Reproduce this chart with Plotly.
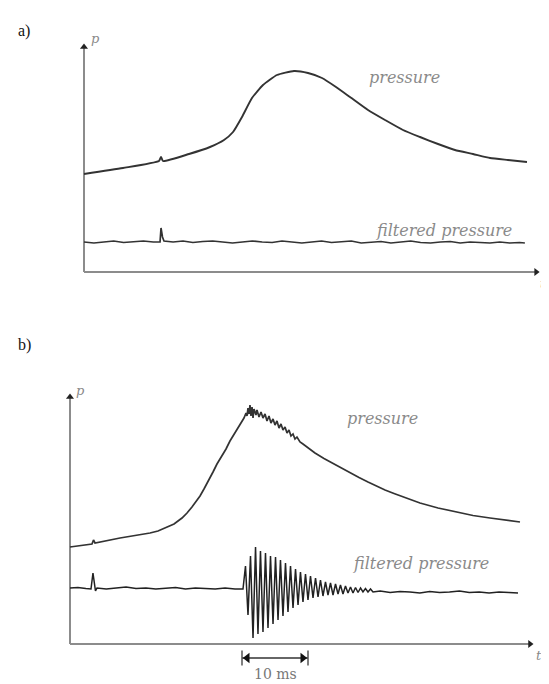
import plotly.graph_objects as go

# ---------------- data (t in ms, p in arbitrary units) ----------------
# panel a)
t_press_a = [0, 5.91, 11.36, 11.67, 11.97, 15.91, 19.09, 21.21, 22.58, 23.94, 25.45, 27.12,
             29.24, 31.82, 33.94, 36.06, 38.18, 40.30, 43.03, 45.61, 48.33, 50.91, 53.64,
             56.21, 58.94, 61.52, 64.24, 67.12]
p_press_a = [9.8, 10.4, 11.1, 11.5, 11.1, 11.8, 12.5, 13.2, 14.0, 15.5, 17.4, 18.7,
             19.7, 20.1, 19.9, 19.4, 18.5, 17.5, 16.2, 15.2, 14.2, 13.5, 12.8,
             12.2, 11.8, 11.4, 11.2, 11.0]

t_filt_a = [0, 1.5, 3, 4.5, 6, 7.5, 9, 10.5, 11.52, 11.67, 11.89, 12.12, 13.5, 15, 16.5, 18, 19.5,
            21, 22.5, 24, 25.5, 27, 28.5, 30, 31.5, 33, 34.5, 36, 37.5, 39, 40.5, 42, 43.5, 45,
            46.5, 48, 49.5, 51, 52.5, 54, 55.5, 57, 58.5, 60, 61.5, 63, 64.5, 66, 66.8]
d_filt_a = [0, -0.1, 0, 0.1, -0.05, 0, 0.1, 0, 0, 1.4, 0.5, 0.1, 0, 0.1, -0.05, 0.05, 0.1,
            0, -0.1, 0, 0.1, 0, -0.05, 0.1, 0, -0.1, 0, 0.1, -0.05, 0, 0.1, -0.1, 0, 0.05,
            -0.1, 0, 0.1, -0.05, -0.1, 0, 0.05, -0.1, 0, -0.05, -0.1, 0, -0.1, -0.05, -0.1]

# panel b)
t_press_b = [0.0, 3.33, 3.56, 3.79, 7.58, 10.61, 12.12, 13.33, 14.39, 15.76, 16.97, 17.73,
             18.48, 19.09, 19.70, 20.30, 21.06, 21.67, 22.27, 23.03, 23.64, 24.24, 25.0, 25.61,
             26.21, 26.36, 26.67, 26.82, 26.97, 27.12, 27.27, 27.42, 27.58, 27.73, 27.88,
             28.18, 28.33, 28.64, 28.94, 29.24, 29.55, 29.85, 30.15, 30.45, 30.76, 31.06, 31.36,
             31.67, 31.97, 32.27, 32.58, 32.88, 33.18, 33.48, 33.79, 34.09, 34.39, 34.85, 35.30,
             36.21, 37.12, 38.48, 39.85, 41.06, 42.42, 43.79, 45.15, 46.36, 47.73, 49.09, 50.45,
             51.67, 53.03, 55.76, 58.33, 61.06, 63.64, 65.91, 68.18]
p_press_b = [9.7, 10.0, 10.4, 10.1, 10.6, 10.9, 11.1, 11.3, 11.6, 12.0, 12.6, 13.1,
             13.7, 14.2, 14.8, 15.5, 16.4, 17.2, 18.0, 18.8, 19.5, 20.3, 21.1, 21.8,
             22.4, 22.6, 23.1, 22.8, 23.6, 23.0, 23.9, 22.8, 23.7, 22.6, 23.5,
             22.9, 23.4, 22.7, 23.2, 22.6, 23.0, 22.3, 22.8, 22.1, 22.5, 21.9, 22.3,
             21.6, 22.0, 21.4, 21.7, 21.1, 21.4, 20.8, 21.0, 20.5, 20.7, 20.2, 20.0,
             19.55, 19.1, 18.55, 18.05, 17.6, 17.1, 16.65, 16.2, 15.8, 15.4, 15.05, 14.7,
             14.4, 14.1, 13.6, 13.2, 12.85, 12.6, 12.4, 12.2]

t_filt_b = [0, 1.2, 2.4, 3.18, 3.48, 3.71, 3.86, 4.09, 5.5, 7, 8.5, 10, 11.5, 13, 14.5, 16, 17.5,
            19, 20.5, 22, 23.5, 25, 26.21,
            26.59, 26.97, 27.35, 27.73, 28.11, 28.48, 28.86, 29.24, 29.62, 30.00, 30.38, 30.76,
            31.14, 31.52, 31.89, 32.27, 32.65, 33.03, 33.41, 33.79, 34.17, 34.55, 34.92, 35.30,
            35.68, 36.06, 36.44, 36.82, 37.20, 37.58, 37.95, 38.33, 38.71, 39.09, 39.47, 39.85,
            40.23, 40.61, 40.98, 41.36, 41.74, 42.12, 42.50, 42.88, 43.26, 43.64, 44.02, 44.39,
            44.77, 45.15, 45.53, 45.91,
            47, 48.5, 50, 51.5, 53, 54.5, 56, 57.5, 59, 60.5, 62, 63.5, 65, 66.5, 67.88]
d_filt_b = [0, 0.05, -0.05, -0.1, 1.5, 0.2, -0.3, 0, -0.1, 0, 0.1, -0.05, 0, -0.1, 0, 0.05, -0.1,
            0, -0.05, -0.1, 0, -0.1, -0.1,
            2.2, -2.7, 3.2, -5.0, 4.1, -4.6, 3.7, -4.4, 3.5, -4.0, 3.2, -3.6,
            3.1, -3.2, 2.8, -2.8, 2.5, -2.4, 2.2, -2.0, 1.9, -1.7, 1.6, -1.4,
            1.4, -1.2, 1.2, -1.0, 1.0, -0.9, 0.8, -0.8, 0.6, -0.7, 0.5, -0.7,
            0.4, -0.6, 0.3, -0.6, 0.2, -0.5, 0.1, -0.5, 0.05, -0.45, 0.0, -0.4,
            -0.05, -0.4, -0.1, -0.4,
            -0.3, -0.45, -0.35, -0.4, -0.5, -0.35, -0.45, -0.4, -0.3, -0.45, -0.4, -0.5, -0.4, -0.45, -0.5]

scale_bar_ms = [26.06, 36.06]   # 10 ms marker
scale_label = "10 ms"

# ---------------- layout constants ----------------
PAGE_OFF = 8                 # default body margin of the written page
W, H = 549 - PAGE_OFF, 684 - PAGE_OFF
PX_PER_MS = 6.6
PX_PER_P = 10.0
FILT_OFFSET_A = 3.0
FILT_OFFSET_B = 5.6
SPLIT = 342                  # page y separating the two panels

LINE = "#333333"
AXC = "#8c8c8c"
TXT = "#8a8a8a"
SERIF_IT = "DejaVu Serif"
SERIF = "Liberation Serif"

fig = go.Figure()

def axis_traces(xa, ya, xmax, ymax):
    fig.add_trace(go.Scatter(x=[0, 0], y=[0, ymax], mode="lines", line=dict(color=AXC, width=2),
                             xaxis=xa, yaxis=ya, hoverinfo="skip"))
    fig.add_trace(go.Scatter(x=[0, xmax], y=[0, 0], mode="lines", line=dict(color=AXC, width=2),
                             xaxis=xa, yaxis=ya, hoverinfo="skip"))
    fig.add_trace(go.Scatter(x=[0], y=[ymax], mode="markers",
                             marker=dict(symbol="triangle-up", size=7, color="#222"),
                             xaxis=xa, yaxis=ya, hoverinfo="skip"))
    fig.add_trace(go.Scatter(x=[xmax], y=[0], mode="markers",
                             marker=dict(symbol="triangle-right", size=7, color="#222"),
                             xaxis=xa, yaxis=ya, hoverinfo="skip"))

# panel a
axis_traces("x", "y", 68.5, 22.5)
fig.add_trace(go.Scatter(x=t_press_a, y=p_press_a, mode="lines",
                         line=dict(color=LINE, width=1.9, shape="spline", smoothing=0.5),
                         xaxis="x", yaxis="y"))
fig.add_trace(go.Scatter(x=t_filt_a, y=[FILT_OFFSET_A + d for d in d_filt_a], mode="lines",
                         line=dict(color=LINE, width=1.7), xaxis="x", yaxis="y"))

# panel b
axis_traces("x2", "y2", 69.7, 24.7)
fig.add_trace(go.Scatter(x=t_press_b, y=p_press_b, mode="lines",
                         line=dict(color=LINE, width=1.7), xaxis="x2", yaxis="y2"))
fig.add_trace(go.Scatter(x=t_filt_b, y=[FILT_OFFSET_B + d for d in d_filt_b], mode="lines",
                         line=dict(color="#222", width=1.5), xaxis="x2", yaxis="y2"))

# 10 ms bar
bar_y = -1.4
fig.add_trace(go.Scatter(x=scale_bar_ms, y=[bar_y, bar_y], mode="lines",
                         line=dict(color="#333", width=1.5), xaxis="x2", yaxis="y2"))
for xb in scale_bar_ms:
    fig.add_trace(go.Scatter(x=[xb, xb], y=[bar_y + 0.75, bar_y - 0.75], mode="lines",
                             line=dict(color="#555", width=1.5), xaxis="x2", yaxis="y2"))
fig.add_trace(go.Scatter(x=[scale_bar_ms[0] + 0.8, scale_bar_ms[1] - 0.8], y=[bar_y, bar_y],
                         mode="markers",
                         marker=dict(symbol=["triangle-left", "triangle-right"], size=9, color="#111"),
                         xaxis="x2", yaxis="y2"))

ann = []
def txt(x, y, s, xref, yref, size=16, italic=True, color=TXT, family=SERIF_IT):
    ann.append(dict(x=x, y=y, xref=xref, yref=yref, text=s, showarrow=False,
                    font=dict(family=family, size=size, color=color,
                              style="italic" if italic else "normal")))

txt(48.6, 19.5, "pressure", "x", "y")
txt(54.5, 4.2, "filtered pressure", "x", "y")
txt(1.7, 23.4, "p", "x", "y", size=13)
txt(69.5, -1.1, "t", "x", "y", size=13)

txt(47.4, 22.6, "pressure", "x2", "y2")
txt(53.2, 8.1, "filtered pressure", "x2", "y2")
txt(1.6, 25.4, "p", "x2", "y2", size=13)
txt(71.0, -1.1, "t", "x2", "y2", size=13)
txt(31.06, -2.95, scale_label, "x2", "y2", size=14, italic=False, color="#777")

ann.append(dict(x=(16 - PAGE_OFF) / W, y=1 - (20 - PAGE_OFF) / H, xref="paper", yref="paper",
                text="a)", showarrow=False, font=dict(family=SERIF, size=16, color="#111")))
ann.append(dict(x=(16 - PAGE_OFF) / W, y=1 - (345 - PAGE_OFF) / H, xref="paper", yref="paper",
                text="b)", showarrow=False, font=dict(family=SERIF, size=16, color="#111")))

split_paper = 1 - (SPLIT - PAGE_OFF) / H
hidden = dict(visible=False, fixedrange=True)
fig.update_layout(
    width=W, height=H, margin=dict(l=0, r=0, t=0, b=0),
    paper_bgcolor="white", plot_bgcolor="white", showlegend=False,
    xaxis=dict(domain=[0, 1], range=[(PAGE_OFF - 84) / PX_PER_MS, (549 - 84) / PX_PER_MS], **hidden),
    yaxis=dict(domain=[split_paper, 1], range=[(272 - SPLIT) / PX_PER_P, (272 - PAGE_OFF) / PX_PER_P], **hidden),
    xaxis2=dict(domain=[0, 1], range=[(PAGE_OFF - 70) / PX_PER_MS, (549 - 70) / PX_PER_MS], **hidden),
    yaxis2=dict(domain=[0, split_paper], range=[(644 - 684) / PX_PER_P, (644 - SPLIT) / PX_PER_P], **hidden),
    annotations=ann,
)

fig.write_html("out.html")
